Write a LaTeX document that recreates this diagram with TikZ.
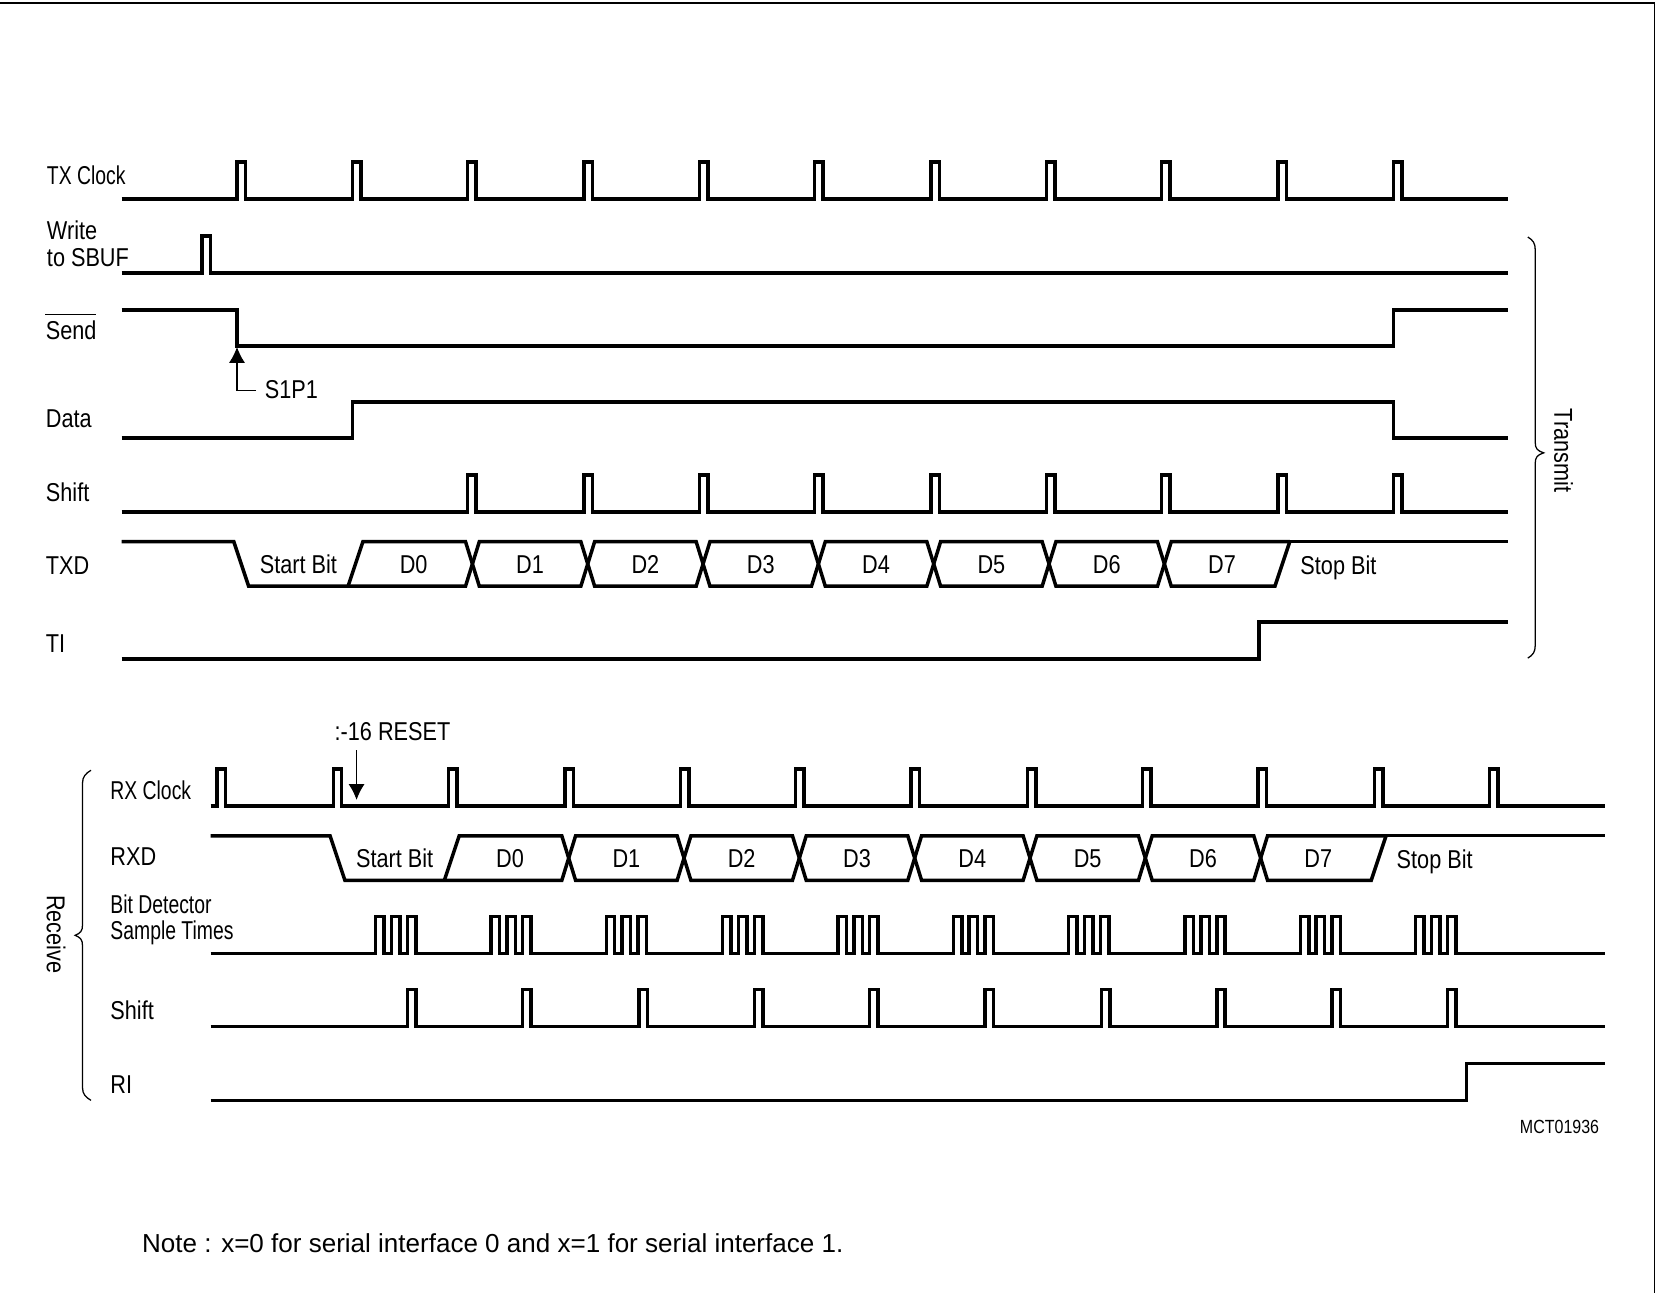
\documentclass[tikz,border=0pt]{standalone}
\usepackage{fontspec}
\usepackage{graphicx}
\setmainfont{Liberation Sans}
\newfontfamily\narrowf[FakeStretch=0.84]{Liberation Sans}
\newfontfamily\narrowerf[FakeStretch=0.75]{Liberation Sans}
\usetikzlibrary{arrows.meta}
\tikzset{
  sig/.style={line width=1.65pt,line cap=butt,line join=miter,black},
  lab/.style={inner sep=0pt,text height=8.8pt,text depth=0pt,font=\narrowf\fontsize{12.2pt}{14pt}\selectfont,text=black,anchor=west},
  labn/.style={lab,font=\narrowerf\fontsize{12.2pt}{14pt}\selectfont},
  ctr/.style={inner sep=0pt,text height=8.8pt,text depth=0pt,font=\narrowf\fontsize{12.2pt}{14pt}\selectfont,text=black},
  tip/.style={-{Latex[length=7.5pt,width=7.6pt]},line width=0.5pt,black},
}
\begin{document}
\begin{tikzpicture}[x=0.5pt,y=-0.5pt]
\useasboundingbox (0,0) rectangle (1568,1222);
\fill[white] (0,0) rectangle (1568,1222);
% frame
\draw[line width=0.65pt] (0,3) -- (1563.5,3) -- (1563.5,1222);
% --- Transmit ---
\draw[sig] (115,188) foreach \x in {224,333,442,552,661,770,880,989,1098,1208,1317}{ -- (\x,188) -- (\x,153) -- (\x+8,153) -- (\x+8,188)} -- (1425,188);
\draw[sig] (115,258) -- (191,258) -- (191,223) -- (199,223) -- (199,258) -- (1425,258);
\draw[sig] (115,293) -- (224,293) -- (224,327) -- (1317,327) -- (1317,293) -- (1425,293);
\draw[sig] (115,414) -- (333,414) -- (333,380) -- (1317,380) -- (1317,414) -- (1425,414);
\draw[sig] (115,484) foreach \x in {442,552,661,770,880,989,1098,1208,1317}{ -- (\x,484) -- (\x,449) -- (\x+8,449) -- (\x+8,484)} -- (1425,484);
% TXD
\draw[sig] (115,512) -- (221,512) -- (235,554) -- (440,554) -- (453,512) -- (549,512) -- (562,554) -- (658,554) -- (671,512) -- (767,512) -- (780,554) -- (876,554) -- (889,512) -- (985,512) -- (998,554) -- (1094,554) -- (1107,512) -- (1219,512);
\draw[sig] (329,554) -- (343,512) -- (440,512) -- (453,554) -- (549,554) -- (562,512) -- (658,512) -- (671,554) -- (767,554) -- (780,512) -- (876,512) -- (889,554) -- (985,554) -- (998,512) -- (1094,512) -- (1107,554) -- (1205,554) -- (1219,512);
\draw[sig] (1197,511.8) -- (1425,511.8);
\draw[sig] (115,623) -- (1190,623) -- (1190,588) -- (1425,588);
% --- Receive ---
\draw[sig] (199,762) foreach \x in {205,315,424,534,643,752,861,971,1080,1189,1299,1408}{ -- (\x,762) -- (\x,727) -- (\x+8,727) -- (\x+8,762)} -- (1517,762);
\draw[sig] (199,790) -- (312,790) -- (326,832) -- (531,832) -- (544,790) -- (640,790) -- (653,832) -- (749,832) -- (762,790) -- (858,790) -- (871,832) -- (967,832) -- (980,790) -- (1076,790) -- (1089,832) -- (1185,832) -- (1198,790) -- (1310,790);
\draw[sig] (420,832) -- (434,790) -- (531,790) -- (544,832) -- (640,832) -- (653,790) -- (749,790) -- (762,832) -- (858,832) -- (871,790) -- (967,790) -- (980,832) -- (1076,832) -- (1089,790) -- (1185,790) -- (1198,832) -- (1296,832) -- (1310,790);
\draw[sig] (1288,789.8) -- (1517,789.8);
\draw[sig] (199,901) foreach \x in {355,464,573,683,792,901,1010,1120,1229,1338}{ -- (\x,901) -- (\x,866) -- (\x+8,866) -- (\x+8,901) -- (\x+15,901) -- (\x+15,866) -- (\x+23,866) -- (\x+23,901) -- (\x+30,901) -- (\x+30,866) -- (\x+38,866) -- (\x+38,901)} -- (1517,901);
\draw[sig] (199,970) foreach \x in {385,494,604,713,822,931,1041,1150,1259,1368}{ -- (\x,970) -- (\x,935) -- (\x+8,935) -- (\x+8,970)} -- (1517,970);
\draw[sig] (199,1040) -- (1386,1040) -- (1386,1005) -- (1517,1005);
% labels
\node[labn] (txclock) at (44,166) {TX Clock};
\node[lab] (write) at (44,218) {Write};
\node[lab] (tosbuf) at (44,243.5) {to SBUF};
\node[lab] (send) at (43,312) {Send};
\draw[line width=0.5pt] (43,297) -- (91,297);
\node[lab] (data) at (43,395.5) {Data};
\node[lab] (shifta) at (43,465) {Shift};
\node[lab] (txd) at (43,534.5) {TXD};
\node[lab] (ti) at (43,608) {TI};
\node[lab] (s1p1) at (250,368) {S1P1};
\coordinate (s1tip) at (224,328);
\draw[tip] (s1p1.west) ++(-8,1) -| (s1tip);
\foreach \n/\x/\t in {0/391/D0,1/501/D1,2/610/D2,3/719/D3,4/828/D4,5/937/D5,6/1046/D6,7/1155/D7}{
  \node[ctr] (tx\n) at (\x,533) {\t};
}
\node[ctr] (txstart) at (282,533) {Start Bit};
\node[ctr] (txstop) at (1265,534) {Stop Bit};
\node[labn] (rxclock) at (104,747) {RX Clock};
\node[lab] (rxd) at (104,809) {RXD};
\node[labn] (bitdet) at (104,855) {Bit Detector};
\node[labn] (sample) at (104,879) {Sample Times};
\node[lab] (shiftb) at (104,955) {Shift};
\node[lab] (ri) at (104,1025) {RI};
\node[ctr] (reset) at (371,691) {:-16 RESET};
\coordinate (rstart) at (337,709);
\coordinate (rtip) at (337,756);
\draw[tip] (rstart) -- (rtip);
\foreach \n/\x/\t in {0/482/D0,1/592/D1,2/701/D2,3/810/D3,4/919/D4,5/1028/D5,6/1137/D6,7/1246/D7}{
  \node[ctr] (rx\n) at (\x,811) {\t};
}
\node[ctr] (rxstart) at (373,811) {Start Bit};
\node[ctr] (rxstop) at (1356,812) {Stop Bit};
% braces
\draw[line width=0.6pt] (1444,224) .. controls (1449,227) and (1451,230) .. (1451,236) -- (1451,418) .. controls (1451,424) and (1453,426) .. (1459,428) .. controls (1453,430) and (1451,432) .. (1451,438) -- (1451,610) .. controls (1451,616) and (1449,619) .. (1444,622);
\node[ctr,rotate=-90] (transmit) at (1478,426) {Transmit};
\draw[line width=0.6pt] (86,728) .. controls (81,731) and (78,734) .. (78,740) -- (78,874) .. controls (78,880) and (76,882) .. (71,884) .. controls (76,886) and (78,888) .. (78,894) -- (78,1028) .. controls (78,1034) and (81,1037) .. (86,1040);
\node[ctr,rotate=-90] (receive) at (53,883) {Receive};
\node[inner sep=0pt,font=\narrowf\fontsize{9pt}{10pt}\selectfont] (mct) at (1474,1065) {MCT01936};
\node[inner sep=0pt,anchor=west,font=\fontsize{12.3pt}{14pt}\selectfont] (note) at (134,1175) {Note : x=0 for serial interface 0 and x=1 for serial interface 1.};
\end{tikzpicture}
\end{document}
